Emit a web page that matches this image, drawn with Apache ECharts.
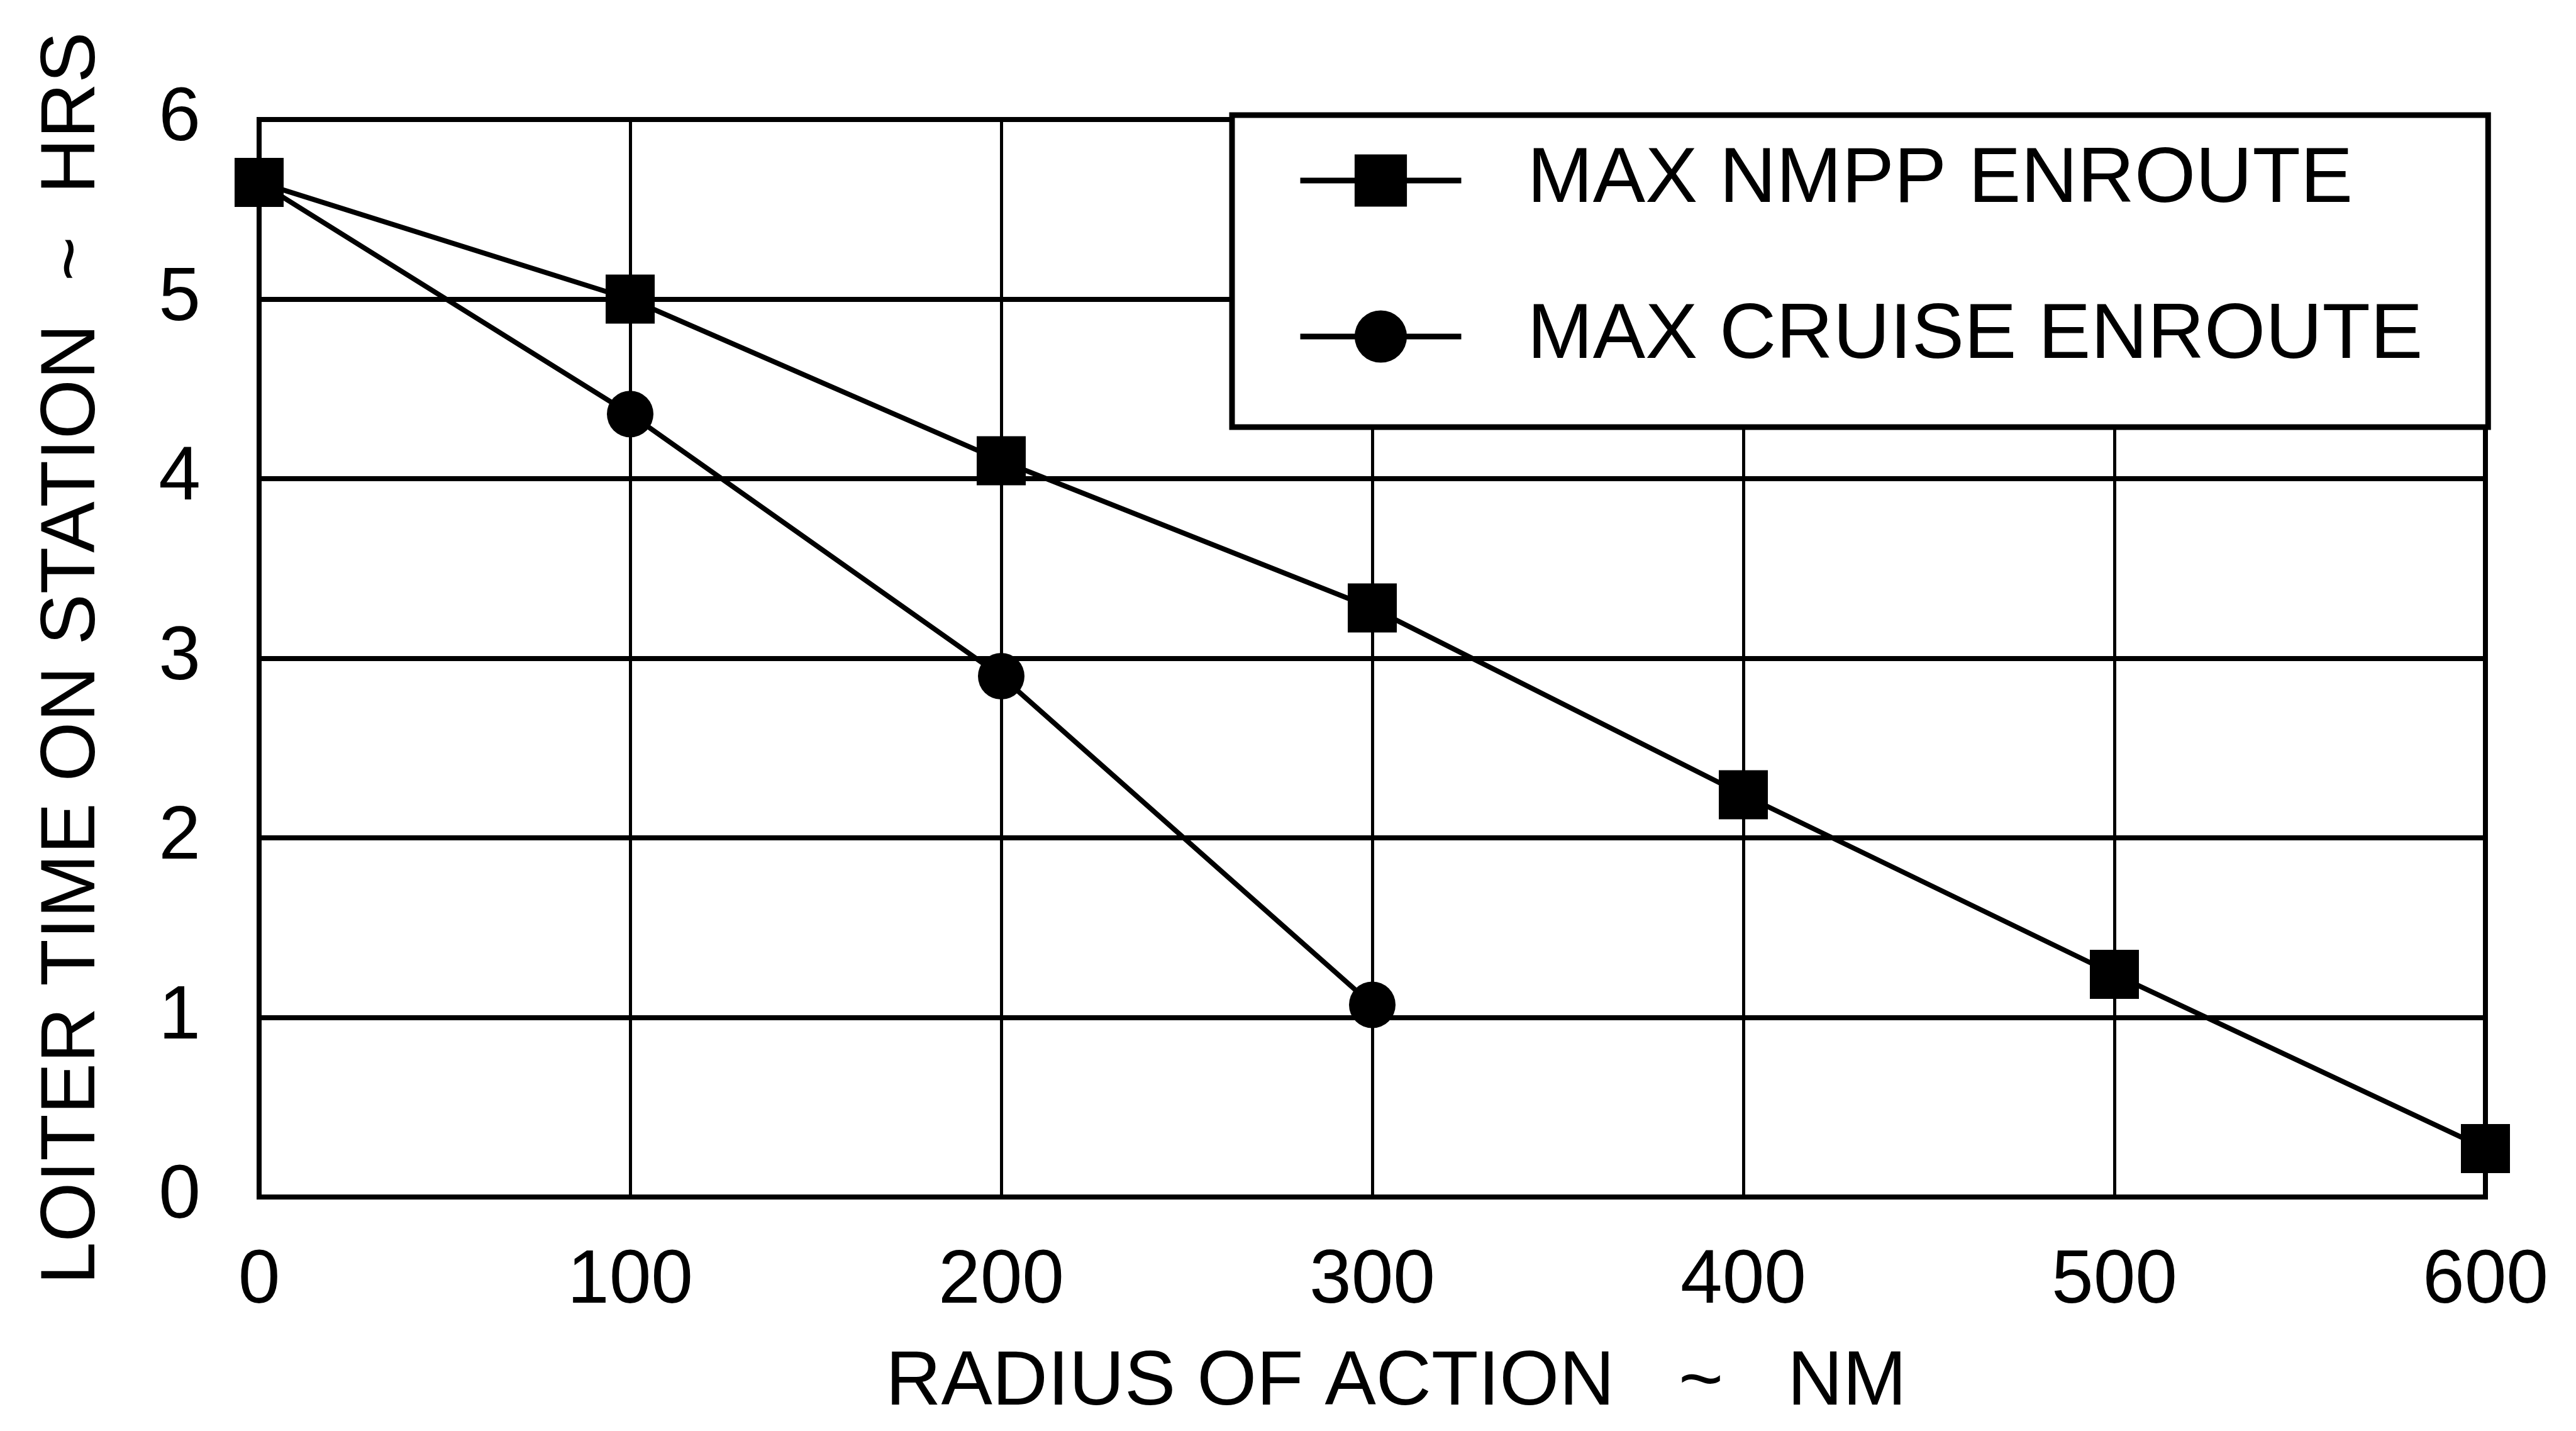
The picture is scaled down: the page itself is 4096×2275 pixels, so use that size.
<!DOCTYPE html>
<html>
<head>
<meta charset="utf-8">
<title>Loiter time on station</title>
<script src="https://cdn.jsdelivr.net/npm/echarts@6/dist/echarts.min.js"></script>
<style>
  html, body { margin: 0; padding: 0; background: #fff; }
  #chart { width: 4096px; height: 2275px; }
</style>
</head>
<body>
<div id="chart"></div>
<script>
// radius of action (NM)
const radiusNm = [0, 100, 200, 300, 400, 500, 600];
// loiter time, max NMPP enroute (HRS)
const nmppHrs = [5.65, 5.0, 4.1, 3.28, 2.24, 1.24, 0.27];
// max cruise enroute only goes to 300 NM
const cruiseRadiusNm = [0, 100, 200, 300];
const cruiseHrs = [5.65, 4.36, 2.9, 1.07];

const xTicks = [0, 100, 200, 300, 400, 500, 600];
const yTicks = [0, 1, 2, 3, 4, 5, 6];

const FONT = "'Liberation Sans', Arial, sans-serif";

const chart = echarts.init(document.getElementById("chart"));

const option = {
  animation: false,
  backgroundColor: "#fff",
  textStyle: { fontFamily: FONT, color: "#000" },
  grid: {
    left: 412,
    right: 144,
    top: 190,
    bottom: 372,
    show: true,
    borderColor: "#000",
    borderWidth: 8,
  },
  legend: {
    data: ["MAX NMPP ENROUTE", "MAX CRUISE ENROUTE"],
    orient: "vertical",
    left: 1959,
    top: 183,
    backgroundColor: "#fff",
    borderColor: "#000",
    borderWidth: 9,
    borderRadius: 0,
    padding: [39, 104, 79, 104],
    itemWidth: 256,
    itemHeight: 104,
    itemGap: 118,
    lineStyle: { width: 9 },
    textStyle: {
      fontFamily: FONT,
      fontSize: 125,
      lineHeight: 130,
      color: "#000",
      padding: [0, 0, 0, 100],
    },
  },
  xAxis: {
    type: "value",
    min: xTicks[0],
    max: xTicks[xTicks.length - 1],
    interval: 100,
    name: "RADIUS OF ACTION   ~   NM",
    nameLocation: "middle",
    nameGap: 235,
    nameTextStyle: {
      fontFamily: FONT,
      fontSize: 122,
      color: "#000",
      padding: [0, 0, 0, 76],
    },
    axisLine: { show: true, lineStyle: { color: "#000", width: 8 } },
    axisTick: { show: false },
    axisLabel: {
      margin: 75,
      fontFamily: FONT,
      fontSize: 120,
      color: "#000",
    },
    splitLine: { show: true, lineStyle: { color: "#000", width: 5 } },
  },
  yAxis: {
    type: "value",
    min: yTicks[0],
    max: yTicks[yTicks.length - 1],
    interval: 1,
    name: "LOITER TIME ON STATION  ~  HRS",
    nameLocation: "middle",
    nameGap: 235,
    nameTextStyle: {
      fontFamily: FONT,
      fontSize: 122,
      color: "#000",
    },
    axisLine: { show: true, lineStyle: { color: "#000", width: 8 } },
    axisTick: { show: false },
    axisLabel: {
      margin: 93,
      fontFamily: FONT,
      fontSize: 120,
      color: "#000",
    },
    splitLine: { show: true, lineStyle: { color: "#000", width: 8 } },
  },
  series: [
    {
      name: "MAX CRUISE ENROUTE",
      type: "line",
      data: cruiseRadiusNm.map((x, i) => [x, cruiseHrs[i]]),
      symbol: "circle",
      symbolSize: 74,
      lineStyle: { color: "#000", width: 8 },
      itemStyle: { color: "#000" },
      z: 3,
    },
    {
      name: "MAX NMPP ENROUTE",
      type: "line",
      data: radiusNm.map((x, i) => [x, nmppHrs[i]]),
      symbol: "rect",
      symbolSize: 78,
      lineStyle: { color: "#000", width: 8 },
      itemStyle: { color: "#000" },
      z: 4,
    },
  ],
};

chart.setOption(option);
</script>
</body>
</html>
